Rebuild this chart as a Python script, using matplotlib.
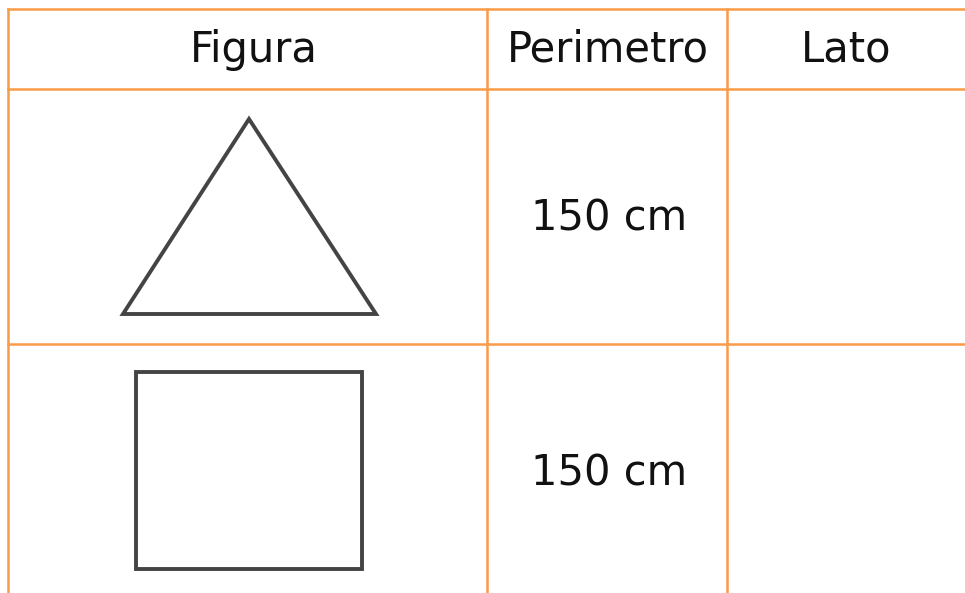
import numpy as np
import matplotlib
matplotlib.use('Agg')
from matplotlib import pyplot as plt
from matplotlib.patches import Polygon

# tabella: intestazioni e valori
headers = ['Figura', 'Perimetro', 'Lato']
perimetri = ['150 cm', '150 cm']
lati = ['', '']

# bordi delle colonne e delle righe (pixel)
col_edges = [8, 487, 727, 975]
row_edges = [9, 89, 344, 600]

# vertici delle figure
triangolo = [(249, 119), (376, 314), (123, 314)]
quadrato = [(136, 372), (362, 372), (362, 569), (136, 569)]

W, H = 965, 593
fig = plt.figure(figsize=(W / 100, H / 100), dpi=100)
ax = fig.add_axes([0, 0, 1, 1])
ax.set_xlim(0, W)
ax.set_ylim(H, 0)
ax.axis('off')

orange = '#F99A46'
for x in col_edges:
    ax.plot([x, x], [row_edges[0], row_edges[-1]], color=orange, lw=1.8)
for y in row_edges:
    ax.plot([col_edges[0], col_edges[-1]], [y, y], color=orange, lw=1.8)

font = dict(family='DejaVu Sans', fontsize=30, color='#111111', ha='center', va='center')
ax.text(254, 50, headers[0], **font)
ax.text(608, 50, headers[1], **font)
ax.text(846, 50, headers[2], **font)

for i, (p, l) in enumerate(zip(perimetri, lati)):
    yc = (row_edges[i + 1] + row_edges[i + 2]) / 2
    ax.text(609, yc + 2, p, **font)
    ax.text(846, yc + 2, l, **font)

for pts in (triangolo, quadrato):
    ax.add_patch(Polygon(np.array(pts), closed=True, fill=False,
                         edgecolor='#444444', lw=2.8, joinstyle='miter'))

fig.savefig('out.png', dpi=100, facecolor='white')
